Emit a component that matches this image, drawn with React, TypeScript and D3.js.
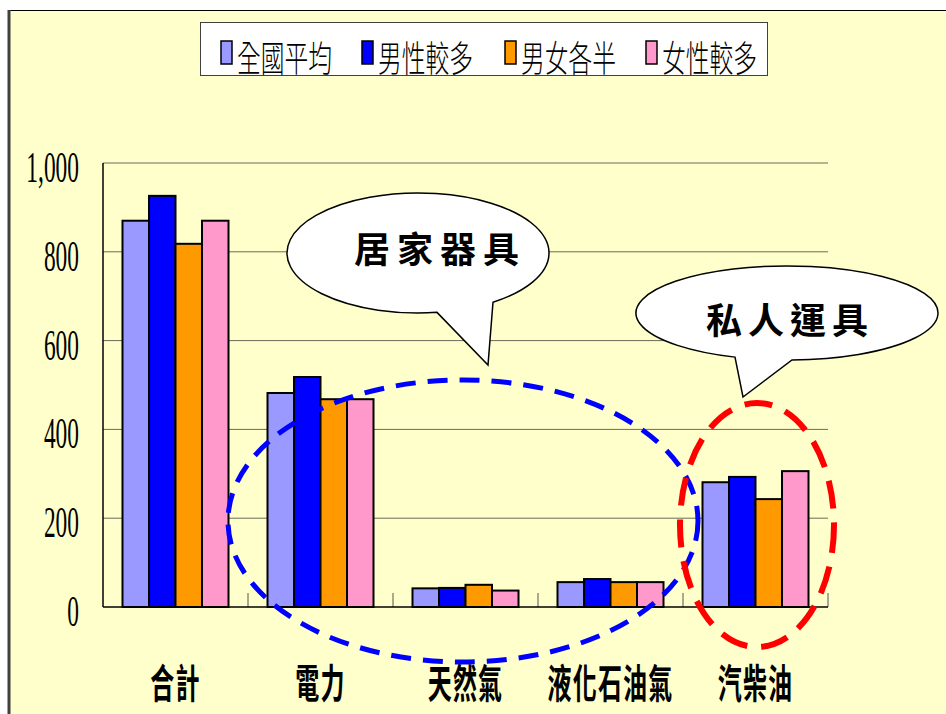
import React from "react";
import * as d3 from "d3";

const categories = ["合計", "電力", "天然氣", "液化石油氣", "汽柴油"];
const seriesNames = ["全國平均", "男性較多", "男女各半", "女性較多"];
const nationalAvg = [870, 482, 42, 56, 281];
const moreMale = [926, 518, 43, 63, 293];
const equalMix = [818, 468, 50, 56, 243];
const moreFemale = [870, 468, 37, 56, 306];
const seriesColors = ["#9999FF", "#0000FF", "#FF9900", "#FF99CC"];
const yTicks = [0, 200, 400, 600, 800, 1000];

const seriesValues = [nationalAvg, moreMale, equalMix, moreFemale];

const W = 946;
const H = 714;
const plot = { left: 103, right: 828, top: 163, bottom: 607 };

function calloutPath(cx: number, cy: number, rx: number, ry: number, x1: number, x2: number, tip: [number, number]) {
  const yOn = (x: number) => cy + ry * Math.sqrt(Math.max(0, 1 - ((x - cx) / rx) ** 2));
  const p1: [number, number] = [x1, yOn(x1)];
  const p2: [number, number] = [x2, yOn(x2)];
  return `M${p1[0]},${p1[1]} A${rx},${ry} 0 1 1 ${p2[0]},${p2[1]} L${tip[0]},${tip[1]} Z`;
}

export default function App() {
  const y = d3.scaleLinear().domain([0, 1000]).range([plot.bottom, plot.top]);
  const x0 = d3.scaleBand<string>().domain(categories).range([plot.left, plot.right]).paddingInner(0).paddingOuter(0);
  const inner = 106;
  const x1 = d3
    .scaleBand<string>()
    .domain(seriesNames)
    .range([(x0.bandwidth() - inner) / 2, (x0.bandwidth() + inner) / 2]);

  const legendX = [221, 362, 505, 646];
  const cjk = "'Noto Sans CJK TC', 'Noto Sans CJK SC', sans-serif";

  return (
    <svg width={W} height={H} style={{ position: "absolute", left: 0, top: 0, background: "#ffffff" }}>
      <rect x={8} y={10} width={W} height={H} fill="#FFFFCC" />
      <line x1={8} y1={10.5} x2={W} y2={10.5} stroke="#000" strokeWidth={1} />
      <line x1={9} y1={10} x2={9} y2={H} stroke="#404040" strokeWidth={3} />

      {/* legend */}
      <rect x={200.5} y={22.5} width={567} height={53} fill="#FFFFFF" stroke="#404040" strokeWidth={1} />
      {seriesNames.map((s, i) => (
        <g key={s}>
          <rect x={legendX[i]} y={41} width={11} height={23} fill={seriesColors[i]} stroke="#000" strokeWidth={1.5} />
          <text
            transform={`translate(${legendX[i] + 16},57) scale(0.66,1)`}
            fontFamily={cjk}
            fontSize={36}
            fontWeight={300}
            dominantBaseline="central"
            fill="#000"
          >
            {s}
          </text>
        </g>
      ))}

      {/* gridlines */}
      {yTicks.filter((t) => t > 0).map((t) => (
        <line key={t} x1={plot.left} x2={plot.right} y1={y(t)} y2={y(t)} stroke="#6b6b5a" strokeWidth={1} />
      ))}

      {/* y labels */}
      {yTicks.map((t) => (
        <text
          key={t}
          transform={`translate(79,${y(t) + 4}) scale(0.52,1)`}
          textAnchor="end"
          dominantBaseline="central"
          fontFamily="'Liberation Serif', 'Times New Roman', serif"
          fontSize={45}
          fill="#000"
        >
          {d3.format(",")(t)}
        </text>
      ))}

      {/* bars */}
      {categories.map((c, ci) => (
        <g key={c} transform={`translate(${x0(c)},0)`}>
          {seriesNames.map((s, si) => {
            const v = seriesValues[si][ci];
            return (
              <rect
                key={s}
                x={x1(s)}
                y={y(v)}
                width={x1.bandwidth()}
                height={y(0) - y(v)}
                fill={seriesColors[si]}
                stroke="#000"
                strokeWidth={2}
              />
            );
          })}
        </g>
      ))}

      {/* axes */}
      {categories.map((c) => (
        <line key={c} x1={(x0(c) as number) + x0.bandwidth()} x2={(x0(c) as number) + x0.bandwidth()} y1={593} y2={plot.bottom} stroke="#555" strokeWidth={1} />
      ))}
      <line x1={plot.left} x2={plot.left} y1={plot.top} y2={plot.bottom} stroke="#000" strokeWidth={1.5} />
      <line x1={plot.left} x2={plot.right} y1={plot.bottom} y2={plot.bottom} stroke="#000" strokeWidth={1.5} />

      {/* category labels */}
      {categories.map((c) => (
        <text
          key={c}
          transform={`translate(${(x0(c) as number) + x0.bandwidth() / 2},680) scale(0.6,1)`}
          textAnchor="middle"
          dominantBaseline="central"
          fontFamily={cjk}
          fontWeight={700}
          fontSize={40}
          letterSpacing={2}
          fill="#000"
        >
          {c}
        </text>
      ))}

      {/* callouts */}
      <path d={calloutPath(418, 253, 131, 60, 437, 493, [488, 365])} fill="#FFFFFF" stroke="#000" strokeWidth={1.5} />
      <text x={440} y={247} textAnchor="middle" dominantBaseline="central" fontFamily={cjk} fontWeight={700} fontSize={36} letterSpacing={7} fill="#000">
        居家器具
      </text>
      <path d={calloutPath(787, 313, 151, 47, 735, 792, [743, 397])} fill="#FFFFFF" stroke="#000" strokeWidth={1.5} />
      <text x={790} y={318} textAnchor="middle" dominantBaseline="central" fontFamily={cjk} fontWeight={700} fontSize={36} letterSpacing={6} fill="#000">
        私人運具
      </text>

      {/* dashed highlight ellipses */}
      <ellipse cx={463} cy={521} rx={235} ry={141} fill="none" stroke="#0000FF" strokeWidth={5} strokeDasharray="20 12" />
      <ellipse cx={757} cy={525} rx={77} ry={122} fill="none" stroke="#FF0000" strokeWidth={6} strokeDasharray="28 14" />
    </svg>
  );
}
